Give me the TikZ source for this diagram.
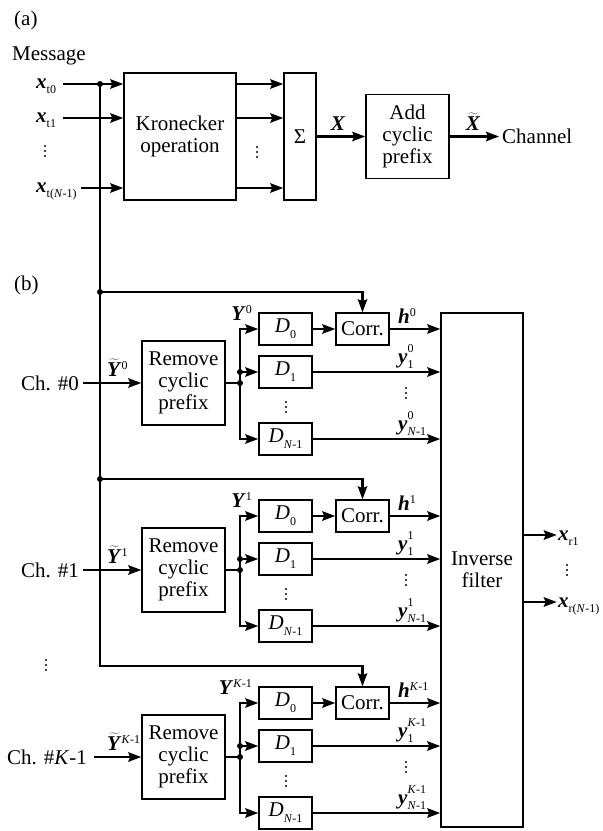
\documentclass[tikz,border=0pt]{standalone}
\usepackage{fontspec}
\setmainfont{Liberation Serif}
\usetikzlibrary{arrows.meta,calc}
\newcommand{\bi}[1]{\textbf{\textit{#1}}}
\newcommand{\Sb}[1]{\raisebox{-0.28em}{\fontsize{12}{12}\selectfont #1}}
\newcommand{\Sp}[1]{\raisebox{0.3em}{\fontsize{12}{12}\selectfont #1}}
\newcommand{\SbSp}[2]{\ooalign{\raisebox{0.5em}{\fontsize{12}{12}\selectfont #2}\hfill\cr\Sb{#1}\hfill\cr}}
\newcommand{\wt}[1]{$\widetilde{\mbox{#1}}$}
\tikzset{vdts/.pic={\fill (0,-5) circle (1.1pt); \fill (0,0) circle (1.1pt); \fill (0,5) circle (1.1pt);}}
\newcommand{\chsect}[6]{%
\begin{scope}[shift={(0,#2)}]
 \node[blk, minimum width=83, minimum height=84] (rm#1) at (183.5,54) {Remove\\cyclic\\prefix};
 \node[dbox] (da#1) at (285.5,0) {\textit{D}\Sb{0}};
 \node[dbox] (db#1) at (285.5,43) {\textit{D}\Sb{1}};
 \node[dbox] (dn#1) at (285.5,110) {\textit{D}\Sb{\textit{N}-1}};
 \pic at (286,78) {vdts};
 \node[dbox] (co#1) at (362.5,0) {Corr.};
 \node[lbl, anchor=base east] (ch#1) at (#5,61) {#4};
 \coordinate (ci#1) at (#6,54);
 \draw[arr] (ci#1) -- (rm#1.west);
 \node[lbl, mlbl, anchor=base west] (yt#1) at (107,47) {\wt{\bi{Y}}\Sp{#3}};
 \coordinate (ja#1) at (240,54);
 \coordinate (jb#1) at (240,43);
 \draw[conn] (rm#1.east) -- (ja#1);
 \draw[arr] (ja#1) |- (da#1.west);
 \draw[arr] (ja#1) |- (dn#1.west);
 \draw[arr] (jb#1) -- (db#1.west);
 \node[jdot] at (ja#1) {};
 \node[jdot] at (jb#1) {};
 \node[lbl, mlbl, anchor=base east] (Y#1) at (252,-9) {\bi{Y}\Sp{#3}};
 \draw[arr] (da#1) -- (co#1);
 \draw[arr] (co#1.east) -- (co#1.east -| inv.west);
 \draw[arr] (db#1.east) -- (db#1.east -| inv.west);
 \draw[arr] (dn#1.east) -- (dn#1.east -| inv.west);
 \node[lbl, mlbl, anchor=base west] (h#1) at (398,-6) {\bi{h}\Sp{#3}};
 \node[lbl, mlbl, anchor=base west] (y1#1) at (398,34) {\bi{y}\SbSp{1}{#3}};
 \pic at (406,64) {vdts};
 \node[lbl, mlbl, anchor=base west] (yN#1) at (398,101) {\bi{y}\SbSp{\textit{N}-1}{#3}};
 \coordinate (fb#1) at (100,-37);
\end{scope}}
\begin{document}
\begin{tikzpicture}[x=1pt,y=-1pt,
  font=\fontsize{21}{22}\selectfont,
  blk/.style={draw, line width=1.5pt, inner sep=0pt, align=center},
  dbox/.style={blk, minimum width=53, minimum height=32},
  conn/.style={line width=2.1pt},
  arr/.style={conn, -{Stealth[length=13pt,width=9.5pt,inset=2pt]}},
  jdot/.style={circle, fill, inner sep=0pt, minimum size=6pt},
  lbl/.style={inner sep=0pt},
  mlbl/.style={font=\fontsize{21}{22}\selectfont}]
\useasboundingbox (0,0) rectangle (603,831);
% ---------- (a) ----------
\node[lbl, anchor=base west] (la) at (14,25) {(a)};
\node[lbl, anchor=base west] (msg) at (12,60) {Message};
\node[blk, minimum width=112, minimum height=127] (kron) at (180,136.5) {Kronecker\\operation};
\node[blk, minimum width=32, minimum height=127] (sig) at (300,136.5) {Σ};
\node[blk, minimum width=83, minimum height=84] (acp) at (407.5,136.5) {Add\\cyclic\\prefix};
\node[lbl, mlbl, anchor=base west] (xt0) at (36,88) {\bi{x}\Sb{t0}};
\node[lbl, mlbl, anchor=base west] (xt1) at (36,122) {\bi{x}\Sb{t1}};
\pic at (45,151) {vdts};
\node[lbl, mlbl, anchor=base west] (xtN) at (36,192) {\bi{x}\Sb{t(\textit{N}-1)}};
\coordinate (a0) at (63,84);
\coordinate (a1) at (63,118);
\coordinate (aN) at (81,188);
\draw[arr] (a0) -- (a0 -| kron.west);
\draw[arr] (a1) -- (a1 -| kron.west);
\draw[arr] (aN) -- (aN -| kron.west);
\draw[arr] (a0 -| kron.east) -- (a0 -| sig.west);
\draw[arr] (a1 -| kron.east) -- (a1 -| sig.west);
\draw[arr] (aN -| kron.east) -- (aN -| sig.west);
\pic at (257,152) {vdts};
\draw[arr] (sig.east) -- (acp.west);
\node[lbl, mlbl, anchor=base] (X) at (338,130) {\bi{X}};
\node[lbl, anchor=base west] (chan) at (502,143) {Channel};
\coordinate (cho) at (499,136.5);
\draw[arr] (acp.east) -- (cho);
\node[lbl, mlbl, anchor=base] (Xt) at (473,130) {\wt{\bi{X}}};
% ---------- (b) ----------
\node[lbl, anchor=base west] (lb) at (14,290) {(b)};
\node[blk, minimum width=82, minimum height=514] (inv) at (482,570) {Inverse\\filter};
\chsect{0}{329}{0}{Ch. \#0}{79}{83}
\chsect{1}{516}{1}{Ch. \#1}{79}{83}
\chsect{2}{703}{\textit{K}-1}{Ch. \#\textit{K}-1}{87}{94}
\pic at (46,665) {vdts};
\node[jdot] (d0) at (a0 -| fb0) {};
\draw[arr] (d0.center) -- (fb2) -| (co2.north);
\draw[arr] (fb0) -| (co0.north);
\draw[arr] (fb1) -| (co1.north);
\node[jdot] at (fb0) {};
\node[jdot] at (fb1) {};
% outputs
\coordinate (o1) at ($(inv.east)+(0,-35)$);
\coordinate (o2) at ($(inv.east)+(0,32)$);
\draw[arr] (o1) -- ++(33,0);
\draw[arr] (o2) -- ++(33,0);
\node[lbl, mlbl, anchor=base west] (xr1) at (558,540) {\bi{x}\Sb{r1}};
\pic at (567,570) {vdts};
\node[lbl, mlbl, anchor=base west] (xrN) at (558,607) {\bi{x}\Sb{r(\textit{N}-1)}};
\end{tikzpicture}
\end{document}
